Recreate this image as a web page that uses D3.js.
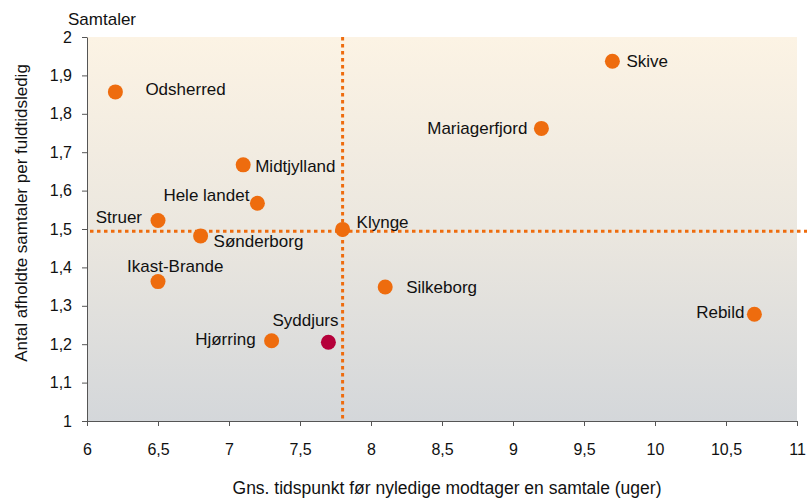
<!DOCTYPE html>
<html>
<head>
<meta charset="utf-8">
<script src="https://cdn.jsdelivr.net/npm/d3@7"></script>
<style>
  body { margin: 0; background: #fff; }
  svg text { font-family: "Liberation Sans", Arial, sans-serif; fill: #111; }
</style>
</head>
<body>
<div id="chart"></div>
<script>
// data
const kommuner = ['Odsherred', 'Skive', 'Mariagerfjord', 'Midtjylland', 'Hele landet', 'Struer',
    'Sønderborg', 'Klynge', 'Ikast-Brande', 'Silkeborg', 'Hjørring', 'Syddjurs', 'Rebild'];
const tidspunkt = [6.2, 9.7, 9.2, 7.1, 7.2, 6.5, 6.8, 7.8, 6.5, 8.1, 7.3, 7.7, 10.7];
const samtaler = [1.857, 1.937, 1.762, 1.667, 1.567, 1.522, 1.482, 1.499, 1.363, 1.349, 1.209, 1.205, 1.278];
const highlight = ['Syddjurs'];
const refX = 7.8;
const refY = 1.494;
const xTicks = [6, 6.5, 7, 7.5, 8, 8.5, 9, 9.5, 10, 10.5, 11];
const yTicks = [1, 1.1, 1.2, 1.3, 1.4, 1.5, 1.6, 1.7, 1.8, 1.9, 2];

// label placement (dx, dy from point centre, anchor)
const labelPos = {
    'Odsherred': [30, -3, 'start'],
    'Skive': [14, 0, 'start'],
    'Mariagerfjord': [-14, 0, 'end'],
    'Midtjylland': [12, 1, 'start'],
    'Hele landet': [-8, -8, 'end'],
    'Struer': [-16, -4, 'end'],
    'Sønderborg': [13, 5, 'start'],
    'Klynge': [14, -7, 'start'],
    'Ikast-Brande': [-31, -16, 'start'],
    'Silkeborg': [21, 0, 'start'],
    'Hjørring': [-16, -2, 'end'],
    'Syddjurs': [-56, -22, 'start'],
    'Rebild': [-10, -2, 'end']
};

const W = 807, H = 499;
const m = { top: 37, right: 10, bottom: 78, left: 87 };
const w = W - m.left - m.right;
const h = H - m.top - m.bottom;

const svg = d3.select('#chart').append('svg')
    .attr('width', W).attr('height', H);

const grad = svg.append('defs').append('linearGradient')
    .attr('id', 'bg').attr('x1', 0).attr('y1', 0).attr('x2', 0).attr('y2', 1);
grad.append('stop').attr('offset', '0%').attr('stop-color', '#fcf3e4');
grad.append('stop').attr('offset', '50%').attr('stop-color', '#ebe7df');
grad.append('stop').attr('offset', '100%').attr('stop-color', '#d4d7da');

const g = svg.append('g').attr('transform', `translate(${m.left},${m.top})`);

const x = d3.scaleLinear().domain([6, 11]).range([0, w]);
const y = d3.scaleLinear().domain([1, 2]).range([h, 0]);
const fmt = d => String(d).replace('.', ',');

g.append('rect').attr('width', w).attr('height', h).attr('fill', 'url(#bg)');

// reference lines
g.append('line')
    .attr('x1', x(refX)).attr('x2', x(refX))
    .attr('y1', 0).attr('y2', h)
    .attr('stroke', '#ee6c0e').attr('stroke-width', 3)
    .attr('stroke-dasharray', '3.5 3.5');
g.append('line')
    .attr('x1', 3).attr('x2', W - m.left)
    .attr('y1', y(refY)).attr('y2', y(refY))
    .attr('stroke', '#ee6c0e').attr('stroke-width', 3)
    .attr('stroke-dasharray', '3.5 3.5');

// axes
const xAxis = g.append('g')
    .attr('transform', `translate(0,${h})`)
    .call(d3.axisBottom(x).tickValues(xTicks).tickFormat(fmt).tickSize(5).tickSizeOuter(0));
const yAxis = g.append('g')
    .call(d3.axisLeft(y).tickValues(yTicks).tickFormat(fmt).tickSize(5).tickSizeOuter(0));
[xAxis, yAxis].forEach(a => {
    a.select('.domain').attr('stroke', '#555');
    a.selectAll('.tick line').attr('stroke', '#555');
    a.selectAll('text').attr('font-size', '16px').attr('fill', '#111')
        .attr('font-family', '"Liberation Sans", Arial, sans-serif');
});
xAxis.selectAll('text').attr('y', 0).attr('dy', 34);
yAxis.selectAll('text').attr('x', -15);

// points
const data = kommuner.map((k, i) => ({ name: k, x: tidspunkt[i], y: samtaler[i] }));

g.selectAll('circle.pt')
    .data(data)
    .join('circle')
    .attr('class', 'pt')
    .attr('cx', d => x(d.x))
    .attr('cy', d => y(d.y))
    .attr('r', 7.5)
    .attr('fill', d => highlight.includes(d.name) ? '#b5003a' : '#ee6c0e');

g.selectAll('text.lbl')
    .data(data)
    .join('text')
    .attr('class', 'lbl')
    .attr('x', d => x(d.x) + labelPos[d.name][0])
    .attr('y', d => y(d.y) + labelPos[d.name][1])
    .attr('dy', '0.35em')
    .attr('text-anchor', d => labelPos[d.name][2])
    .attr('font-size', '17px')
    .text(d => d.name);

// titles
svg.append('text')
    .attr('x', 68).attr('y', 25)
    .attr('font-size', '17px')
    .text('Samtaler');
svg.append('text')
    .attr('transform', 'translate(27,213) rotate(-90)')
    .attr('text-anchor', 'middle')
    .attr('font-size', '17px')
    .text('Antal afholdte samtaler per fuldtidsledig');
svg.append('text')
    .attr('x', 447).attr('y', 494)
    .attr('text-anchor', 'middle')
    .attr('font-size', '17.5px')
    .text('Gns. tidspunkt før nyledige modtager en samtale (uger)');
</script>
</body>
</html>
